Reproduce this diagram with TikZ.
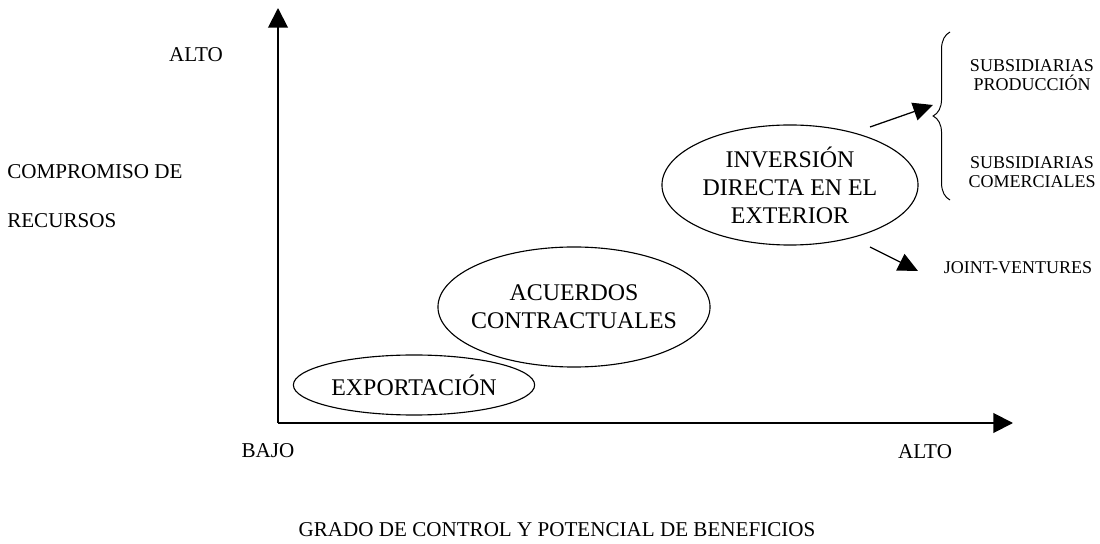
\documentclass[tikz,border=0pt]{standalone}
\usepackage{fontspec}
\setmainfont{Liberation Serif}
\usepackage{tikz}
\usetikzlibrary{arrows.meta,shapes.geometric,decorations.pathreplacing}
\tikzstyle{every edge} = [draw,line width=0.9pt,-{Triangle[length=14pt,width=13pt]}]
\tikzstyle{axis} = [draw,line width=1.4pt,-{Triangle[length=14pt,width=14pt]}]
\tikzstyle{area} = [draw,ellipse,line width=0.8pt,inner sep=0pt,align=center,font=\fontsize{17}{20}\selectfont]
\tikzstyle{lbl} = [inner sep=0pt,font=\fontsize{15}{18}\selectfont]
\tikzstyle{sub} = [inner sep=0pt,align=center,font=\fontsize{12.8}{13.5}\selectfont]

\begin{document}
\begin{tikzpicture}[x=0.025cm,y=-0.025cm]
\useasboundingbox (0,0) rectangle (1100,544);

\coordinate (o) at (278,423);
\coordinate (ytop) at (278,8);
\coordinate (xend) at (1013,423);
\draw[axis] (o) -- (ytop);
\draw[axis] (o) -- (xend);

\node[lbl] (yhi) at (196,55) {ALTO};
\node[lbl,anchor=west] (ylab1) at (7,172) {COMPROMISO DE};
\node[lbl,anchor=west] (ylab2) at (7,221) {RECURSOS};
\node[lbl] (xlo) at (268,451) {BAJO};
\node[lbl] (xhi) at (925,452) {ALTO};
\node[lbl] (xlab) at (557,530) {GRADO DE CONTROL Y POTENCIAL DE BENEFICIOS};

\node[area,inner xsep=-4pt,minimum width=6.03cm,minimum height=1.5cm] (exp) at (414,385) {EXPORTACIÓN};
\node[area,inner xsep=-12pt,minimum width=6.8cm,minimum height=3cm] (acu) at (574,307) {ACUERDOS\\CONTRACTUALES};
\node[area,minimum width=6.4cm,minimum height=3cm] (inv) at (790,185) {INVERSIÓN\\DIRECTA EN EL\\EXTERIOR};

\coordinate (b1) at (950,200);
\coordinate (b2) at (950,32);
\draw[line width=0.7pt,decorate,decoration={brace,amplitude=12pt}] (b1) -- (b2);

\node[sub] (prod) at (1032,75) {SUBSIDIARIAS\\PRODUCCIÓN};
\node[sub] (com) at (1032,172) {SUBSIDIARIAS\\COMERCIALES};
\node[sub] (jv) at (1018,268) {JOINT-VENTURES};

\coordinate (a1) at (870,127);
\coordinate (a2) at (933,105);
\coordinate (a3) at (870,247);
\coordinate (a4) at (918,271);
\draw (a1) edge (a2);
\draw (a3) edge (a4);

\end{tikzpicture}
\end{document}
